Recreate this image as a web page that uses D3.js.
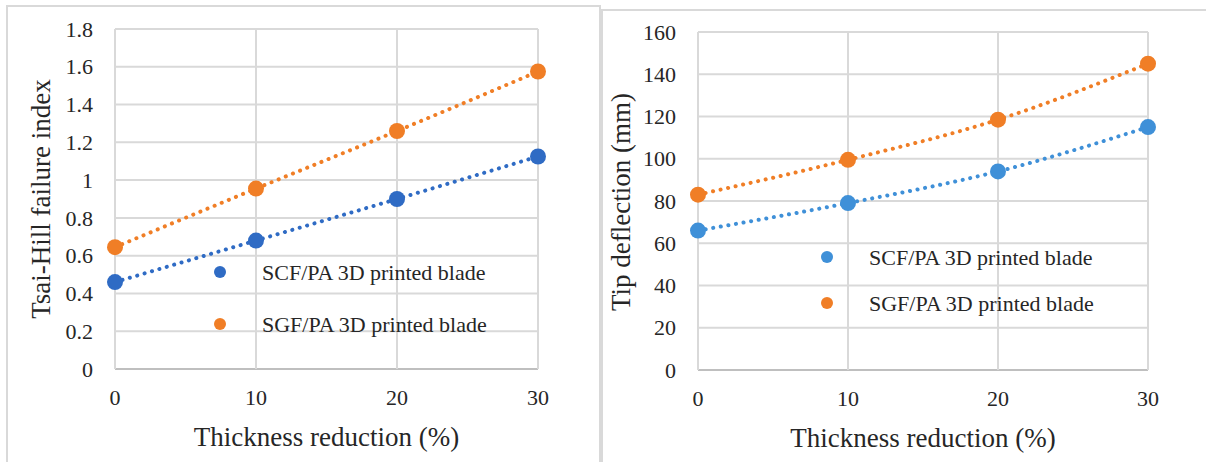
<!DOCTYPE html>
<html>
<head>
<meta charset="utf-8">
<script src="https://cdn.jsdelivr.net/npm/d3@7"></script>
<style>
  body { margin: 0; background: #fff; }
  text { font-family: "Liberation Serif", "DejaVu Serif", serif; }
</style>
</head>
<body>
<div id="wrapper"></div>
<script>
const thickness = [0, 10, 20, 30]
const seriesNames = ["SCF/PA 3D printed blade", "SGF/PA 3D printed blade"]

// left chart: Tsai-Hill failure index
const tsaiSCF = [0.46, 0.68, 0.90, 1.125]
const tsaiSGF = [0.645, 0.955, 1.26, 1.575]
const tsaiTicks = [0, 0.2, 0.4, 0.6, 0.8, 1, 1.2, 1.4, 1.6, 1.8]

// right chart: tip deflection (mm)
const tipSCF = [66, 79, 94, 115]
const tipSGF = [83, 99.5, 118.5, 145]
const tipTicks = [0, 20, 40, 60, 80, 100, 120, 140, 160]

const xTicks = [0, 10, 20, 30]

const width = 1206
const height = 462

const svg = d3.select("#wrapper")
  .append("svg")
  .attr("width", width)
  .attr("height", height)
  .style("display", "block")

// chart frames
svg.append("rect")
  .attr("x", 7).attr("y", 6)
  .attr("width", 593).attr("height", 460)
  .attr("fill", "none").attr("stroke", "#d9d9d9").attr("stroke-width", 2)
svg.append("rect")
  .attr("x", 602).attr("y", 10)
  .attr("width", 620).attr("height", 460)
  .attr("fill", "none").attr("stroke", "#d9d9d9").attr("stroke-width", 2)

function drawChart(opts) {
  const x = d3.scaleLinear().domain([0, 30]).range([opts.left, opts.right])
  const y = d3.scaleLinear().domain([0, opts.yMax]).range([opts.bottom, opts.top])

  const g = svg.append("g")

  // gridlines
  g.selectAll(".hgrid").data(opts.yTicks).enter().append("line")
    .attr("x1", opts.left).attr("x2", opts.right)
    .attr("y1", d => y(d)).attr("y2", d => y(d))
    .attr("stroke", d => d == 0 ? "#bfbfbf" : "#d9d9d9")
    .attr("stroke-width", 2)
  g.selectAll(".vgrid").data(xTicks).enter().append("line")
    .attr("y1", opts.top).attr("y2", opts.bottom)
    .attr("x1", d => x(d)).attr("x2", d => x(d))
    .attr("stroke", "#d9d9d9")
    .attr("stroke-width", 2)

  // tick labels
  g.selectAll(".ylab").data(opts.yTicks).enter().append("text")
    .attr("x", opts.left - 22)
    .attr("y", d => y(d))
    .attr("dy", "0.35em")
    .attr("text-anchor", "end")
    .attr("font-size", 22)
    .attr("fill", "#262626")
    .text(opts.yFormat)
  g.selectAll(".xlab").data(xTicks).enter().append("text")
    .attr("x", d => x(d))
    .attr("y", opts.bottom + 36)
    .attr("text-anchor", "middle")
    .attr("font-size", 22)
    .attr("fill", "#262626")
    .text(d => d)

  // axis titles
  g.append("text")
    .attr("x", (opts.left + opts.right) / 2)
    .attr("y", opts.bottom + 77)
    .attr("text-anchor", "middle")
    .attr("font-size", 27)
    .attr("fill", "#262626")
    .text("Thickness reduction (%)")
  g.append("text")
    .attr("transform", `translate(${opts.titleX}, ${opts.titleY}) rotate(-90)`)
    .attr("text-anchor", "middle")
    .attr("font-size", 27)
    .attr("fill", "#262626")
    .text(opts.yTitle)

  const line = d3.line()
    .x((d, i) => x(thickness[i]))
    .y(d => y(d))
    .curve(d3.curveMonotoneX)

  opts.series.forEach((vals, si) => {
    g.append("path")
      .attr("d", line(vals))
      .attr("fill", "none")
      .attr("stroke", opts.colors[si])
      .attr("stroke-width", 4)
      .attr("stroke-linecap", "round")
      .attr("stroke-dasharray", "0.1 7.6")
    g.selectAll(".dot" + si).data(vals).enter().append("circle")
      .attr("cx", (d, i) => x(thickness[i]))
      .attr("cy", d => y(d))
      .attr("r", 8)
      .attr("fill", opts.colors[si])
  })

  // legend
  seriesNames.forEach((name, si) => {
    const ly = opts.legendY[si]
    g.append("circle")
      .attr("cx", opts.legendX).attr("cy", ly).attr("r", 6)
      .attr("fill", opts.colors[si])
    g.append("text")
      .attr("x", opts.legendX + 42)
      .attr("y", ly)
      .attr("dy", "0.35em")
      .attr("font-size", 22)
      .attr("fill", "#262626")
      .text(name)
  })
}

drawChart({
  left: 115, right: 538, top: 29, bottom: 369,
  yMax: 1.8, yTicks: tsaiTicks,
  yFormat: d => d3.format("~g")(d),
  yTitle: "Tsai-Hill failure index", titleX: 50, titleY: 199,
  series: [tsaiSCF, tsaiSGF],
  colors: ["#2f6bc4", "#f07e26"],
  legendX: 220, legendY: [272, 324]
})

drawChart({
  left: 698, right: 1148, top: 32, bottom: 370,
  yMax: 160, yTicks: tipTicks,
  yFormat: d => d,
  yTitle: "Tip deflection (mm)", titleX: 630, titleY: 202,
  series: [tipSCF, tipSGF],
  colors: ["#3f90d8", "#f07e26"],
  legendX: 827, legendY: [257, 303]
})
</script>
</body>
</html>
